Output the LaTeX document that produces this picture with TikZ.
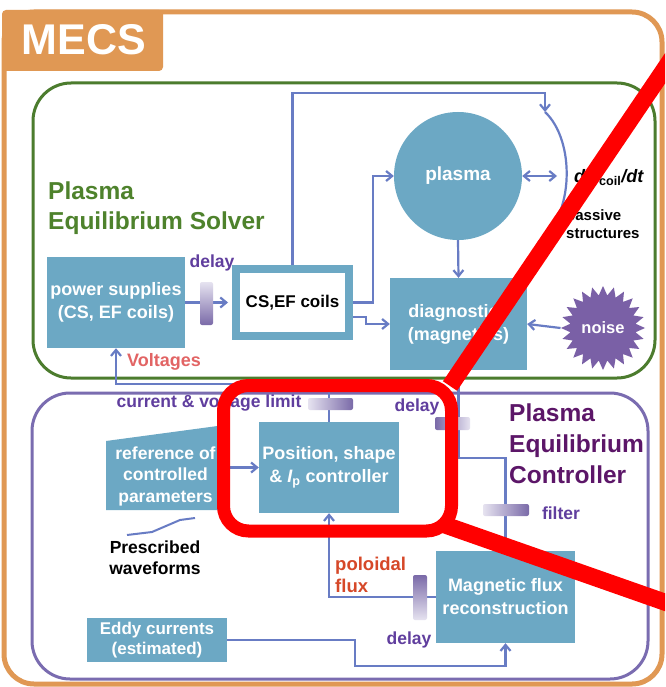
\documentclass[tikz,border=0pt]{standalone}
\usepackage{fontspec}
\setmainfont{Liberation Sans}
\usetikzlibrary{shapes.geometric,arrows.meta,calc}
\pgfdeclarelayer{bg}
\pgfsetlayers{bg,main}
\definecolor{boxblue}{RGB}{108,168,196}
\definecolor{connc}{RGB}{104,124,196}
\definecolor{grn}{RGB}{76,124,46}
\definecolor{grntext}{RGB}{78,130,44}
\definecolor{prp}{RGB}{122,108,176}
\definecolor{org}{RGB}{224,152,84}
\definecolor{ptext}{RGB}{96,62,158}
\definecolor{dptext}{RGB}{92,22,104}
\definecolor{noisec}{RGB}{122,96,166}
\definecolor{volt}{RGB}{226,100,100}
\definecolor{pflux}{RGB}{214,72,40}
\definecolor{barlight}{RGB}{230,227,240}
\definecolor{bardark}{RGB}{122,106,168}
\begin{document}
\begin{tikzpicture}[x=1pt,y=-1pt,
  bx/.style={fill=boxblue, text=white, font=\bfseries\fontsize{18}{23}\selectfont, align=center, inner sep=0pt},
  lbl/.style={inner sep=0pt, font=\bfseries\fontsize{17.5}{21}\selectfont},
  conn/.style={draw=connc, line width=2.2pt},
  arr/.style={-{Straight Barb[length=6pt,width=10pt]}},
  darr/.style={{Straight Barb[length=6pt,width=10pt]}-{Straight Barb[length=6pt,width=10pt]}},
  hbar/.style={rounded corners=2pt, left color=barlight, right color=bardark},
  hbarr/.style={rounded corners=2pt, left color=bardark, right color=barlight},
  vbar/.style={rounded corners=2pt, top color=barlight, bottom color=bardark},
  vbarr/.style={rounded corners=2pt, top color=bardark, bottom color=barlight},
  redmark/.style={draw=red, line width=17pt}
]
\useasboundingbox (0,0) rectangle (665,687);

% frames
\begin{pgfonlayer}{bg}
\fill[white] (0,0) rectangle (665,687);
\draw[org, line width=5pt, rounded corners=30pt] (4,12) rectangle (662,684);
\draw[grn, line width=3pt, rounded corners=38pt] (33,83) rectangle (655,378);
\draw[prp, line width=3pt, rounded corners=38pt] (32,393) rectangle (648,679);
\end{pgfonlayer}
\fill[org, rounded corners=4pt] (2,10) rectangle (163,71);
\node[inner sep=0pt, text=white, font=\bfseries\fontsize{43}{43}\selectfont] (mecs) at (84,40) {MECS};

% titles
\node[inner sep=0pt, text=grntext, anchor=west, align=left, font=\bfseries\fontsize{24.5}{30}\selectfont] (solver) at (48,208) {Plasma\\Equilibrium Solver};
\node[inner sep=0pt, text=dptext, anchor=west, align=left, font=\bfseries\fontsize{24.5}{31}\selectfont] (ctrltitle) at (509,444) {Plasma\\Equilibrium\\Controller};

% boxes
\node[bx, minimum width=138, minimum height=91] (ps) at (116,302.5) {power supplies\\(CS, EF coils)};
\node[draw=boxblue, line width=8pt, fill=white, minimum width=113, minimum height=67, inner sep=0pt, font=\bfseries\fontsize{17}{20}\selectfont] (coils) at (292.5,302.5) {CS,EF coils};
\node[bx, circle, minimum size=128, font=\bfseries\fontsize{19}{23}\selectfont] (plasma) at (458,176) {plasma};
\node[bx, minimum width=137, minimum height=92] (diag) at (458.5,324) {diagnostics\\(magnetics)};
\node[star, star points=24, star point ratio=1.28, minimum size=84, inner sep=0pt, fill=noisec, text=white, font=\bfseries\fontsize{16.5}{20}\selectfont] (noise) at (603,328) {noise};
\node[bx, minimum width=140, minimum height=91] (ctrl) at (329,467.5) {Position, shape\\\& {\itshape I}\textsubscript{p} controller};
\fill[boxblue] (106,441) -- (225,425) -- (225,510) -- (106,510) -- cycle;
\node[bx, fill=none, minimum width=119, font=\bfseries\fontsize{17.5}{21.5}\selectfont] (ref) at (165.5,476) {reference of\\controlled\\parameters};
\node[bx, minimum width=139, minimum height=92] (magflux) at (505.5,597) {Magnetic flux\\reconstruction};
\node[bx, minimum width=140, minimum height=44, font=\bfseries\fontsize{17}{20}\selectfont] (eddy) at (157,640) {Eddy currents\\(estimated)};

% labels
\node[lbl, text=ptext] (delay1) at (212,263) {delay};
\node[lbl, text=volt, font=\bfseries\fontsize{18}{21}\selectfont] (volts) at (164,362) {Voltages};
\node[lbl, text=ptext] (limit) at (209,403) {current \& voltage limit};
\node[lbl, text=ptext] (delay2) at (417,407) {delay};
\node[lbl, text=ptext] (filter) at (561,513) {filter};
\node[lbl, text=ptext] (delay3) at (409,640) {delay};
\node[lbl, text=pflux, anchor=west, align=left, font=\bfseries\fontsize{18.5}{22}\selectfont] (pflux) at (335,575) {poloidal\\flux};
\node[lbl, text=black, align=center, font=\bfseries\fontsize{17.5}{21}\selectfont] (presc) at (155,558) {Prescribed\\waveforms};
\node[lbl, text=black, anchor=west, align=left, font=\bfseries\fontsize{15}{18}\selectfont] (passive) at (566,224) {passive\\structures};
\node[lbl, text=black, anchor=west, font=\bfseries\itshape\fontsize{18}{21}\selectfont] (dpsi) at (574,178) {dψ\textsubscript{\upshape coil}/dt};

% coordinates
\coordinate (ps1) at (545,112);
\coordinate (k1) at (457,458);
\coordinate (e1) at (355,666);
\coordinate (pend) at (557,176);

% connectors
\begin{pgfonlayer}{bg}
\draw[conn, arr, shorten >=4pt] (ps.east) -- (coils.west);
\draw[conn, arr] (coils.north) -- (292.5,93) -- (545,93) -- (ps1);
\draw[conn] (ps1) .. controls (575,140) and (575,215) .. (538,243);
\draw[conn, arr] (coils.east) -- (373,302.5) |- (plasma.west);
\draw[conn, arr] (coils.east |- 0,317) -- (366,317) |- (diag.west);
\draw[conn, darr] (plasma.east) -- (pend);
\draw[conn, arr] (plasma.south) -- (diag.north);
\draw[conn, arr] (noise.west) -- (diag.east);
\draw[conn, arr] (ctrl.north) -- (329,384) -| (ps.south);
\draw[conn] (diag.south) -- (diag.south |- k1) -| (magflux.north);
\draw[conn, arr] (magflux.west) -| (ctrl.south);
\draw[conn, arr] (eddy.east) -| (e1) -| (magflux.south);
\draw[conn, arr] (ref.east |- ctrl.west) -- (ctrl.west);
\end{pgfonlayer}
\draw[connc, line width=2pt] (127,535) -- (152,532) -- (180,520) -- (195,518);

% bars
\shade[vbar] (200,282) rectangle (213,325);
\shade[hbar] (308,398) rectangle (353,410);
\shade[hbarr] (435,417) rectangle (470,430);
\shade[hbar] (483,504) rectangle (529,516);
\shade[vbarr] (413,575) rectangle (427,620);

% red annotation
\begin{scope}
\clip (0,0) rectangle (665,687);
\draw[redmark] (450,386) -- (691,30);
\draw[redmark] (445,525) -- (690,611);
\draw[draw=red, line width=13pt, rounded corners=25pt] (223.5,385.5) rectangle (451.5,531);
\end{scope}
\end{tikzpicture}
\end{document}
